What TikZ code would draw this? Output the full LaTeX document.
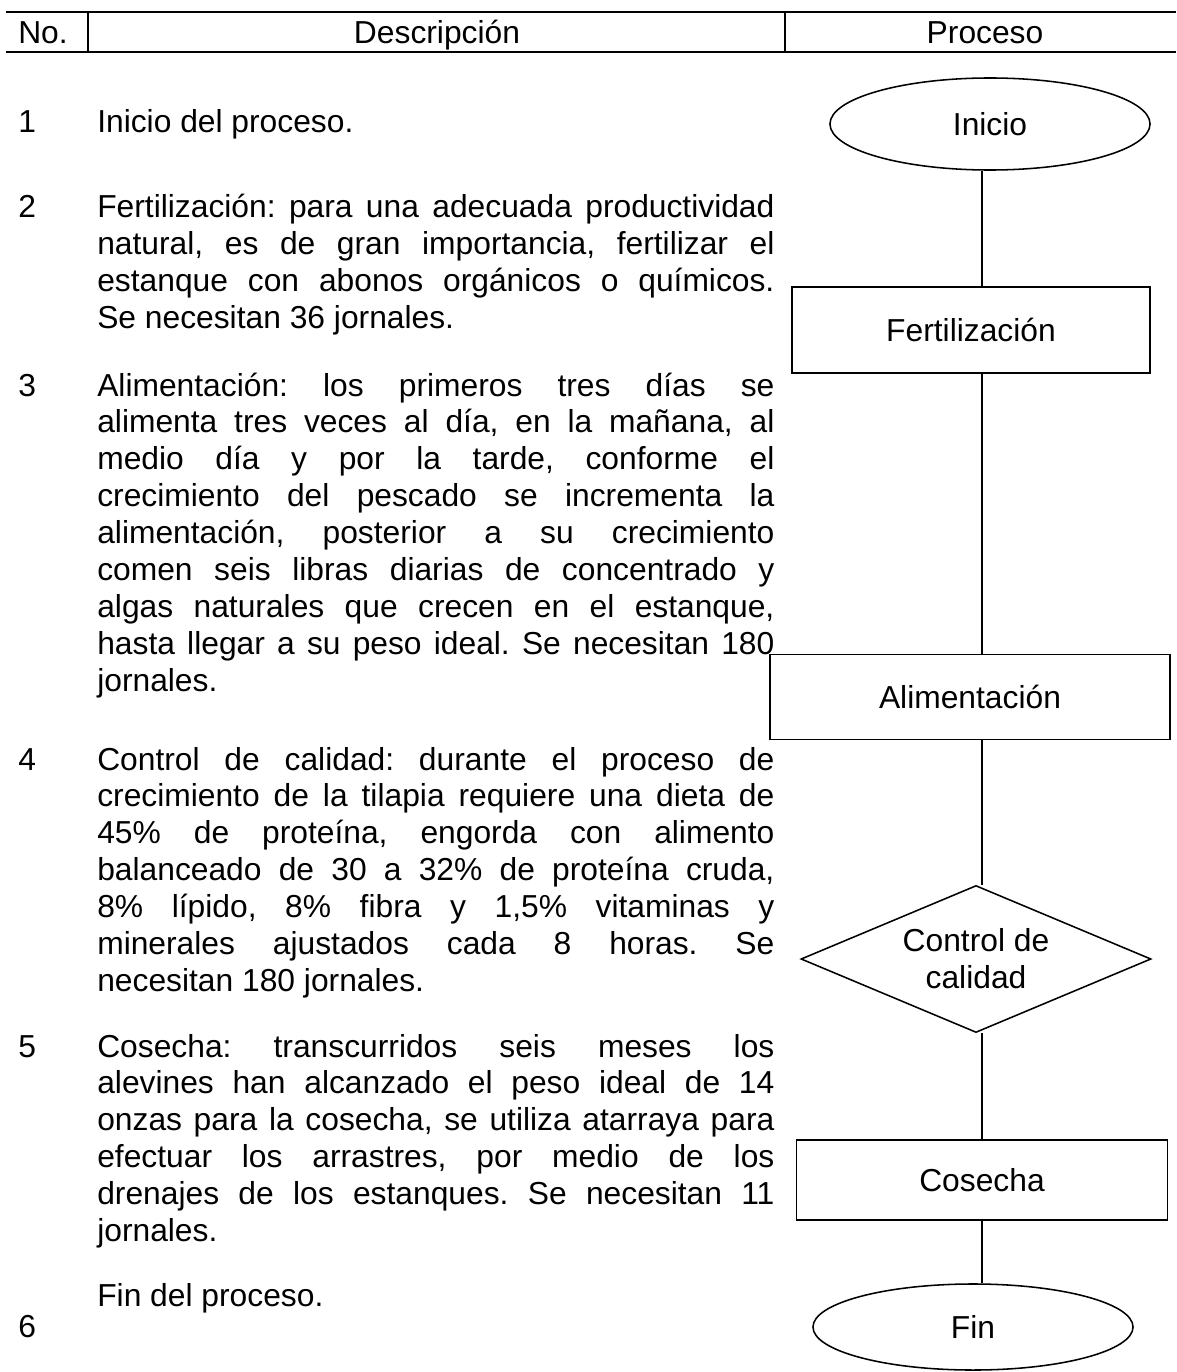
\documentclass[tikz,border=0pt]{standalone}
\usepackage{fontspec}
\setmainfont{Liberation Sans}
\usepackage{tikz}
\usetikzlibrary{shapes.geometric, positioning, calc}
\tikzset{
  paso/.style={rectangle, draw=black, line width=1.1pt, inner sep=0pt},
  terminal/.style={ellipse, draw=black, line width=1.1pt, inner sep=0pt},
  decision/.style={diamond, draw=black, line width=1.1pt, inner sep=0pt,
    shape aspect=2.4, align=center},
  desc/.style={anchor=base west, inner sep=0pt, text width=16.925cm, align=justify},
  num/.style={anchor=base west, inner sep=0pt},
  hdr/.style={anchor=base, inner sep=0pt},
  line/.style={line width=1pt, color=black},
  rule/.style={line width=1.6pt, color=black}
}

\begin{document}
\begin{tikzpicture}[x=0.025cm, y=-0.025cm, font=\fontsize{22.6}{26.3}\selectfont\frenchspacing]
    \useasboundingbox (0,0) rectangle (1176,1372);
    % encabezado
    \coordinate (hl) at (6,12);
    \coordinate (hr) at (1176,12);
    \coordinate (bl) at (6,52);
    \coordinate (br) at (1176,52);
    \draw[rule] (hl) -- (hr);
    \draw[rule] (bl) -- (br);
    \draw[line] (88,12) -- (88,52);
    \draw[line] (785,12) -- (785,52);
    \node[hdr] (hno) at (43,44) {No.};
    \node[hdr] (hdesc) at (437,44) {Descripción};
    \node[hdr] (hproc) at (985,44) {Proceso};

    % descripciones
    \node[num] (n1) at (18,133) {1};
    \node[desc] (d1) at (97,133) {Inicio del proceso.};
    \node[num] (n2) at (18,218) {2};
    \node[desc] (d2) at (97,218) {Fertilización: para una adecuada productividad\linebreak
      natural, es de gran importancia, fertilizar el\linebreak
      estanque con abonos orgánicos o químicos.\linebreak
      Se necesitan 36 jornales.};
    \node[num] (n3) at (18,396) {3};
    \node[desc] (d3) at (97,396) {Alimentación: los primeros tres días se\linebreak
      alimenta tres veces al día, en la mañana, al\linebreak
      medio día y por la tarde, conforme el\linebreak
      crecimiento del pescado se incrementa la\linebreak
      alimentación, posterior a su crecimiento\linebreak
      comen seis libras diarias de concentrado y\linebreak
      algas naturales que crecen en el estanque,\linebreak
      hasta llegar a su peso ideal. Se necesitan 180\linebreak
      jornales.};
    \node[num] (n4) at (18,770) {4};
    \node[desc] (d4) at (97,770) {Control de calidad: durante el proceso de\linebreak
      crecimiento de la tilapia requiere una dieta de\linebreak
      45\% de proteína, engorda con alimento\linebreak
      balanceado de 30 a 32\% de proteína cruda,\linebreak
      8\% lípido, 8\% fibra y 1,5\% vitaminas y\linebreak
      minerales ajustados cada 8 horas. Se\linebreak
      necesitan 180 jornales.};
    \node[num] (n5) at (18,1057) {5};
    \node[desc] (d5) at (97,1057) {Cosecha: transcurridos seis meses los\linebreak
      alevines han alcanzado el peso ideal de 14\linebreak
      onzas para la cosecha, se utiliza atarraya para\linebreak
      efectuar los arrastres, por medio de los\linebreak
      drenajes de los estanques. Se necesitan 11\linebreak
      jornales.};
    \node[num] (n6) at (18,1337) {6};
    \node[desc] (d6) at (97,1306) {Fin del proceso.};

    % diagrama
    \coordinate (spine) at (982,0);
    \node[terminal, minimum width=8cm, minimum height=2.3cm] (inicio) at (990,124) {Inicio};
    \node[paso, minimum width=8.95cm, minimum height=2.15cm] (fert) at (971,330) {Fertilización};
    \node[paso, minimum width=10cm, minimum height=2.125cm] (alim) at (970,697) {Alimentación};
    \node[decision, minimum width=8.75cm, minimum height=3.675cm] (control) at (976,959) {Control de\\calidad};
    \node[paso, minimum width=9.275cm, minimum height=2cm] (cosecha) at (982,1180) {Cosecha};
    \node[terminal, minimum width=8cm, minimum height=2.15cm] (fin) at (973,1327) {Fin};

    \draw[line] (inicio.south -| spine) -- (fert.north -| spine);
    \draw[line] (fert.south -| spine) -- (alim.north -| spine);
    \draw[line] (alim.south -| spine) -- (control.north -| spine);
    \draw[line] (control.south -| spine) -- (cosecha.north -| spine);
    \draw[line] (cosecha.south -| spine) -- (fin.north -| spine);
  \end{tikzpicture}
\end{document}
